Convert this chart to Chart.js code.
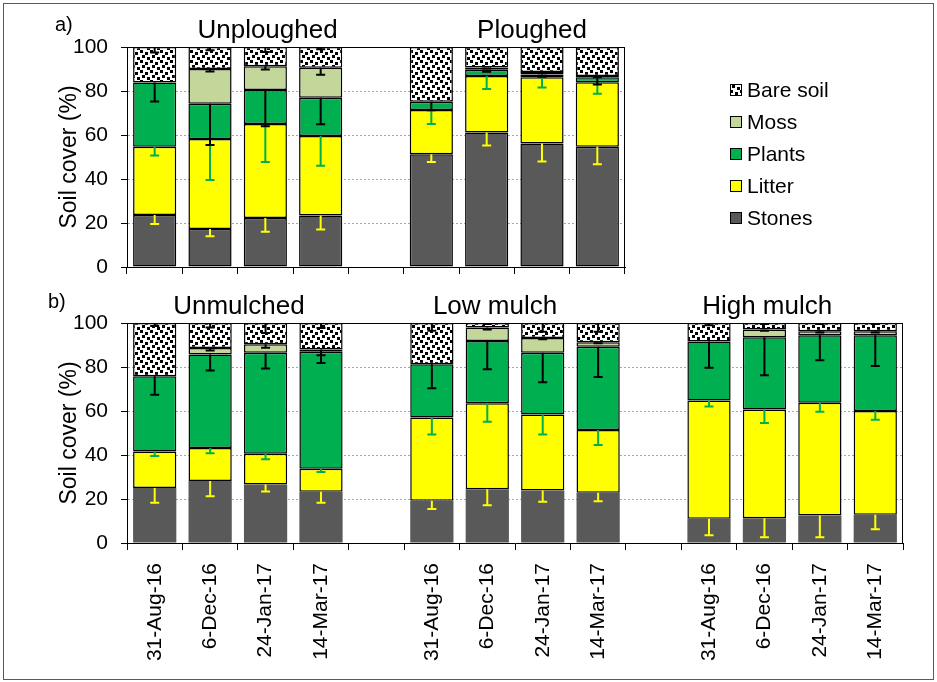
<!DOCTYPE html>
<html>
<head>
<meta charset="utf-8">
<script src="https://cdn.jsdelivr.net/npm/chart.js@4.4.1/dist/chart.umd.min.js"></script>
<style>
  body { margin: 0; background: #fff; }
  #fig { position: relative; width: 937px; height: 682px; }
  #frame { position: absolute; left: 3px; top: 3px; width: 931px; height: 677px; border: 1px solid #595959; box-sizing: border-box; }
  canvas { position: absolute; left: 0; }
</style>
</head>
<body>
<div id="fig">
  <div id="frame"></div>
  <canvas id="panelA" width="937" height="300" style="top:0"></canvas>
  <canvas id="panelB" width="937" height="402" style="top:280px"></canvas>
</div>
<script>
const dates = ["31-Aug-16", "6-Dec-16", "24-Jan-17", "14-Mar-17"];
const groupsA = ["Unploughed", "Ploughed"];
const groupsB = ["Unmulched", "Low mulch", "High mulch"];
const seriesNames = ["Stones", "Litter", "Plants", "Moss", "Bare soil"];
const yTicks = [0, 20, 40, 60, 80, 100];

// a) soil cover (%), 4 dates per treatment
const stonesA = [23.6, 17.3, 22.3, 23.4, 51.2, 61.1, 56.1, 54.7];
const litterA = [31.1, 40.9, 42.7, 36.2, 20.2, 25.7, 30.1, 29.3];
const plantsA = [29.2, 16.0, 15.5, 17.3, 3.7, 2.9, 1.3, 2.2];
const mossA   = [0, 15.8, 10.7, 13.7, 0, 1.0, 1.1, 0.6];
const bareA   = [16.1, 10.0, 8.8, 9.4, 24.9, 9.3, 11.4, 13.2];
// a) error bars (drawn down from the top of each segment)
const stonesErrA = [4.1, 3.3, 6.3, 6.4, 3.5, 5.9, 8.2, 8.0];
const litterErrA = [4.0, 18.7, 17.3, 13.6, 6.4, 5.9, 4.6, 5.2];
const plantsErrA = [8.7, 18.7, 16.5, 12.0, 3.8, 1.0, 1.0, 3.3];
const mossErrA   = [0, 1.1, 1.4, 3.2, 0, 0.5, 0.5, 0.5];
const bareErrA   = [2.5, 1.5, 2.3, 1.0, 0, 0, 0, 0];

// b) soil cover (%)
const stonesB = [25.0, 28.2, 26.6, 23.3, 19.2, 24.4, 23.9, 22.8, 11.0, 11.3, 12.5, 12.8];
const litterB = [16.6, 15.0, 14.0, 10.5, 37.9, 39.1, 34.5, 28.6, 53.8, 49.4, 51.3, 47.2];
const plantsB = [34.2, 42.5, 45.9, 53.1, 24.2, 28.3, 28.1, 37.8, 26.8, 32.8, 30.6, 34.4];
const mossB   = [0, 2.9, 3.8, 1.1, 0, 6.1, 6.7, 2.1, 0, 3.5, 1.8, 1.8];
const bareB   = [24.2, 11.4, 9.7, 12.0, 18.7, 2.1, 6.8, 8.7, 8.4, 3.0, 3.8, 3.8];
// b) error bars
const stonesErrB = [6.7, 7.0, 3.2, 5.0, 3.8, 7.2, 5.2, 3.8, 7.5, 8.7, 9.9, 6.5];
const litterErrB = [2.0, 2.4, 2.5, 1.5, 7.8, 8.4, 9.1, 6.8, 2.7, 6.1, 4.1, 4.0];
const plantsErrB = [8.4, 7.3, 7.2, 5.1, 11.0, 12.8, 13.4, 13.8, 11.9, 17.2, 11.3, 14.0];
const mossErrB   = [0, 1.1, 1.5, 2.7, 0, 0.8, 0.6, 0.5, 0, 0.5, 0.5, 0.5];
const bareErrB   = [1.4, 2.0, 4.5, 2.3, 3.5, 0.5, 4.0, 4.0, 1.0, 0.5, 0.5, 0.5];

const FONT = "'Liberation Sans', Arial, sans-serif";

// empty slot between treatments
function withGaps(values) {
  const out = [];
  values.forEach((v, i) => {
    if (i > 0 && i % dates.length === 0) out.push(null);
    out.push(v);
  });
  return out;
}

function barePattern() {
  const c = document.createElement("canvas");
  c.width = 10; c.height = 10;
  const g = c.getContext("2d");
  g.fillStyle = "#fff";
  g.fillRect(0, 0, 10, 10);
  g.fillStyle = "#000";
  [[0, 0], [5, 2], [2, 5], [7, 7]].forEach(p => g.fillRect(p[0], p[1], 3, 3));
  return g.createPattern(c, "repeat");
}

const fills = ["#595959", "#ffff00", "#00b050", "#c4d79b", barePattern()];
const errColors = ["#ffff00", "#00b050", "#000", "#000", "#000"];

const errorBars = {
  id: "errorBars",
  afterDatasetsDraw(chart) {
    const ctx = chart.ctx;
    const y = chart.scales.y;
    chart.data.datasets.forEach((ds, d) => {
      const meta = chart.getDatasetMeta(d);
      ds.errors.forEach((e, i) => {
        const bar = meta.data[i];
        if (!e || !bar || ds.data[i] === null) return;
        const len = y.getPixelForValue(0) - y.getPixelForValue(e);
        const y2 = bar.y + len;
        ctx.save();
        ctx.strokeStyle = errColors[d];
        ctx.lineWidth = 2;
        ctx.beginPath();
        ctx.moveTo(bar.x, bar.y);
        ctx.lineTo(bar.x, y2);
        ctx.moveTo(bar.x - 4.5, y2);
        ctx.lineTo(bar.x + 4.5, y2);
        ctx.stroke();
        ctx.restore();
      });
    });
  }
};

const panelText = {
  id: "panelText",
  afterDraw(chart, args, opts) {
    const ctx = chart.ctx;
    const area = chart.chartArea;
    const x = chart.scales.x;
    ctx.save();
    // top and right frame of the plot
    ctx.strokeStyle = "#000";
    ctx.lineWidth = 1;
    ctx.beginPath();
    ctx.moveTo(area.left, area.top + 0.5);
    ctx.lineTo(area.right, area.top + 0.5);
    ctx.moveTo(area.right - 0.5, area.top);
    ctx.lineTo(area.right - 0.5, area.bottom);
    ctx.stroke();

    ctx.fillStyle = "#000";
    ctx.textBaseline = "alphabetic";
    ctx.textAlign = "left";
    ctx.font = "20px " + FONT;
    ctx.fillText(opts.letter, opts.letterX, opts.letterY);

    ctx.textAlign = "center";
    ctx.font = "26px " + FONT;
    opts.titles.forEach(t => {
      ctx.fillText(t.text, x.getPixelForValue(t.at), area.top - 9);
    });

    if (opts.legend) {
      ctx.textAlign = "left";
      ctx.textBaseline = "middle";
      ctx.font = "21px " + FONT;
      const lx = area.right + 105;
      seriesNames.slice().reverse().forEach((name, k) => {
        const idx = seriesNames.length - 1 - k;
        const cy = 90 + k * 32;
        ctx.fillStyle = fills[idx];
        ctx.fillRect(lx, cy - 6, 12, 12);
        ctx.strokeStyle = "#000";
        ctx.lineWidth = 1;
        ctx.strokeRect(lx + 0.5, cy - 5.5, 11, 11);
        ctx.fillStyle = "#000";
        ctx.fillText(name, lx + 17, cy + 1);
      });
    }
    ctx.restore();
  }
};

function makePanel(id, series, errors, groupCount, cfg) {
  const labels = withGaps([].concat(...Array(groupCount).fill(dates))).map(l => l === null ? "" : l);
  const datasets = series.map((vals, d) => ({
    label: seriesNames[d],
    data: withGaps(vals),
    errors: withGaps(errors[d]),
    backgroundColor: fills[d],
    borderColor: "#000",
    borderWidth: (cfg.noStoneBorder && d === 0) ? 0 : 1.5,
    borderSkipped: false,
    barPercentage: 0.78,
    categoryPercentage: 1.0
  }));

  return new Chart(document.getElementById(id), {
    type: "bar",
    data: { labels: labels, datasets: datasets },
    options: {
      responsive: false,
      animation: false,
      devicePixelRatio: 1,
      layout: { padding: cfg.padding },
      plugins: {
        legend: { display: false },
        tooltip: { enabled: false },
        panelText: cfg.text
      },
      scales: {
        x: {
          stacked: true,
          offset: true,
          grid: { offset: true, drawOnChartArea: false, tickLength: 7, color: "#000", tickColor: "#000" },
          border: { color: "#000", width: 1 },
          ticks: {
            display: cfg.showDates,
            autoSkip: false,
            maxRotation: 90,
            minRotation: 90,
            padding: 13,
            color: "#000",
            font: { family: FONT, size: 21 }
          },
          afterFit: s => { s.height = cfg.xHeight; }
        },
        y: {
          stacked: true,
          min: yTicks[0],
          max: yTicks[yTicks.length - 1],
          ticks: {
            stepSize: yTicks[1] - yTicks[0],
            padding: 13,
            color: "#000",
            font: { family: FONT, size: 21 }
          },
          grid: {
            color: c => (c.tick && c.tick.value > yTicks[0] && c.tick.value < yTicks[yTicks.length - 1]) ? "#a6a6a6" : "rgba(0,0,0,0)",
            tickColor: "#000",
            tickLength: 6
          },
          border: { color: "#000", width: 1, dash: [2, 2] },
          title: {
            display: true,
            text: "Soil cover (%)",
            color: "#000",
            font: { family: FONT, size: 23 },
            padding: { top: 56, bottom: 0 }
          },
          afterFit: s => { s.width = 127; }
        }
      }
    },
    plugins: [errorBars, panelText]
  });
}

makePanel("panelA",
  [stonesA, litterA, plantsA, mossA, bareA],
  [stonesErrA, litterErrA, plantsErrA, mossErrA, bareErrA],
  groupsA.length,
  {
    padding: { left: 0, right: 312, top: 47, bottom: 0 },
    xHeight: 33,
    showDates: false,
    text: {
      letter: "a)", letterX: 55, letterY: 31, legend: true,
      titles: [{ text: groupsA[0], at: 2.04 }, { text: groupsA[1], at: 6.82 }]
    }
  });

makePanel("panelB",
  [stonesB, litterB, plantsB, mossB, bareB],
  [stonesErrB, litterErrB, plantsErrB, mossErrB, bareErrB],
  groupsB.length,
  {
    padding: { left: 0, right: 34, top: 43, bottom: 0 },
    xHeight: 139,
    showDates: true,
    noStoneBorder: true,
    text: {
      letter: "b)", letterX: 48, letterY: 28, legend: false,
      titles: [{ text: groupsB[0], at: 1.52 }, { text: groupsB[1], at: 6.14 }, { text: groupsB[2], at: 11.05 }]
    }
  });
</script>
</body>
</html>
